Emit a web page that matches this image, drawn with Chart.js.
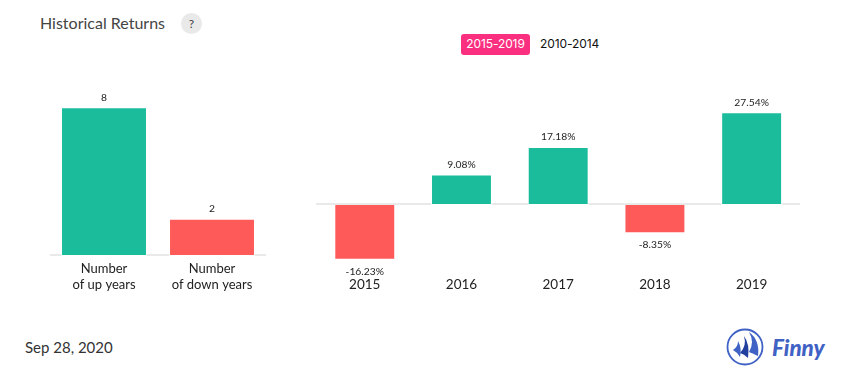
<!DOCTYPE html>
<html><head><meta charset="utf-8">
<script src="https://cdn.jsdelivr.net/npm/chart.js@4"></script>
<style>
html,body{margin:0;padding:0;background:#fff;width:855px;height:382px;overflow:hidden}
.a{position:absolute;white-space:nowrap}
canvas{position:absolute}
</style></head><body>
<div class="a" style="left:40px;top:13px;font:16px/20px Lato;color:#444">Historical Returns</div>
<div class="a" style="left:181px;top:13px;width:21px;height:21px;border-radius:50%;background:#e9e9e9;color:#444;font:12px/21px Lato;text-align:center">?</div>
<div class="a" style="left:461px;top:34px;width:69px;height:21px;border-radius:3px;background:#fb2f80;color:#fff;font:12px/20px Inter;text-align:center;letter-spacing:-.1px">2015-2019</div>
<div class="a" style="left:540px;top:34px;height:21px;color:#111;font:12px/20px Inter;letter-spacing:-.1px">2010-2014</div>
<div class="a" style="left:25px;top:337px;font:15px/20px Lato;color:#333">Sep 28, 2020</div>
<svg class="a" style="left:720px;top:320px" width="125" height="52" viewBox="0 0 125 52">
<circle cx="25" cy="27" r="17.5" fill="none" stroke="#3f62c4" stroke-width="1.8"/>
<path d="M29 32 Q35 22 29 12 Q40 20 38 36 Q32 33 29 32Z" fill="#3f62c4"/>
<path d="M20 33 Q27 26 24 16 Q30 24 28 38 Q24 34 20 33Z" fill="#23409f"/>
<path d="M13 30 Q18 27 18 21 Q22 28 20 37 Q17 32 13 30Z" fill="#3f62c4"/>
<text x="52" y="36" font-family="Lato" font-style="italic" font-weight="900" font-size="22.4" fill="#3f62c4">Finny</text>
</svg>
<canvas id="left" style="left:50px;top:60px" width="217" height="240"></canvas>
<canvas id="right" style="left:316px;top:60px" width="484" height="240"></canvas>
<script>
const countLabels = [["Number","of up years"],["Number","of down years"]];
const countValues = [8, 2];
const years = ["2015","2016","2017","2018","2019"];
const returns = [-16.23, 9.08, 17.18, -8.35, 27.54];
const GREEN = "#1abc9c", RED = "#ff5a5a", LINE = "#e9e9e9";

const valueLabels = (fmt, up, down) => ({
  id: "valueLabels",
  afterDatasetsDraw(chart) {
    const g = chart.ctx, ds = chart.data.datasets[0];
    g.save();
    g.font = "10.3px Lato";
    g.fillStyle = "#222";
    g.textAlign = "center";
    g.textBaseline = "middle";
    chart.getDatasetMeta(0).data.forEach((el, i) => {
      const v = ds.data[i];
      g.fillText(fmt(v), el.x, v >= 0 ? el.y - up : el.y + down);
    });
    g.restore();
  }
});

function build(id, labels, data, opts) {
  new Chart(document.getElementById(id), {
    type: "bar",
    data: { labels, datasets: [{ data, backgroundColor: opts.colors,
      barPercentage: opts.bar, categoryPercentage: 1,
      borderColor: "#fff", borderWidth: 1,
      borderSkipped: c => c.raw >= 0 ? false : "start" }] },
    options: {
      responsive: false, animation: false,
      layout: { padding: opts.padding },
      plugins: { legend: { display: false }, tooltip: { enabled: false } },
      scales: {
        x: {
          grid: { display: false }, border: { display: false },
          ticks: { color: "#222", font: { family: "Lato", size: opts.tickSize, lineHeight: opts.tickLine },
                   padding: opts.tickPad, maxRotation: 0, autoSkip: false },
          afterFit: s => { s.height = opts.axisH; }
        },
        y: {
          min: opts.min, max: opts.max,
          afterFit: s => { s.width = 0; },
          afterBuildTicks: s => { s.ticks = [{ value: opts.lineAt }]; },
          ticks: { display: false },
          border: { display: false },
          grid: { color: LINE, lineWidth: 2, drawTicks: false, z: -1 }
        }
      }
    },
    plugins: [valueLabels(opts.fmt, opts.up, opts.down)]
  });
}
build("left", countLabels, countValues,
  { colors: [GREEN, RED], bar: 0.796, min: 0, max: 10.54, lineAt: 0.054, axisH: 44, tickPad: -3,
    padding: { right: 1 }, tickSize: 13, tickLine: 1.23, up: 10, down: 13, fmt: v => String(v) });
build("right", years, returns,
  { colors: returns.map(v => v >= 0 ? GREEN : RED), bar: 0.63, min: -17.8, max: 43.03, lineAt: 0.297, axisH: 35, tickPad: 4,
    padding: { left: 0.4 }, tickSize: 13.5, tickLine: 1.15, up: 10, down: 12, fmt: v => v.toFixed(2) + "%" });
</script>
</body></html>
